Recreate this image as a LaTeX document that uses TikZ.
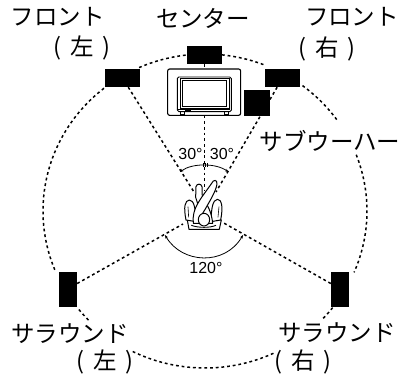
\documentclass[tikz,border=0pt]{standalone}
\usepackage{fontspec}
\setmainfont{Liberation Sans}
\newfontfamily\jpf{Noto Sans CJK JP}
\usetikzlibrary{arrows.meta}
\newcommand{\parpair}[1]{(\hspace{8.5pt}#1\hspace{8.5pt})}
\tikzset{
 lab/.style={font=\jpf\fontsize{23.5}{25}\selectfont,inner sep=0pt,text=black},
 deg/.style={font=\fontsize{16}{18}\selectfont,inner sep=0pt,text=black},
 spk/.style={fill=black,draw=none,inner sep=0pt,minimum width=#1},
 dsh/.style={line width=1.5pt,dash pattern=on 2.8pt off 2.9pt},
 ang/.style={line width=.8pt,{Stealth[length=3.5pt,width=2.8pt]}-{Stealth[length=3.5pt,width=2.8pt]}},
 lst/.style={line width=1pt,fill=white,line join=round},
}
\begin{document}
\begin{tikzpicture}[x=1pt,y=1pt,yscale=-1]
\useasboundingbox (0,0) rectangle (400,375);
\coordinate (c) at (205,211);
\coordinate (la) at (194,192);
\coordinate (lb) at (204.5,190);
\coordinate (lc) at (216,192);
\coordinate (ld) at (183,224);
\coordinate (le) at (222,222);
% speakers
\path (122.5,78) node[spk=35pt,minimum height=18pt] (FL) {};
\path (204.5,55) node[spk=35pt,minimum height=18pt] (FC) {};
\path (282.5,78) node[spk=35pt,minimum height=18pt] (FR) {};
\path (68,289.5) node[spk=18pt,minimum height=35pt] (SL) {};
\path (340,289.5) node[spk=18pt,minimum height=35pt] (SR) {};
% listening lines
\draw[dsh] (FL) -- (la);
\draw[dsh] (FC) -- (lb);
\draw[dsh] (FR) -- (lc);
\draw[dsh] ([yshift=-6pt]SL.east) -- (ld);
\draw[dsh] ([yshift=-6pt]SR.west) -- (le);
% big circle
\draw[dsh] (c) ++(246:162 and 157) arc[start angle=246,end angle=264,x radius=162,y radius=157];
\draw[dsh] (c) ++(276:162 and 157) arc[start angle=276,end angle=292,x radius=162,y radius=157];
\draw[dsh] (c) ++(-53:162 and 157) arc[start angle=-53,end angle=-35,x radius=162,y radius=157];
\draw[dsh] (c) ++(-21:162 and 157) arc[start angle=-21,end angle=23,x radius=162,y radius=157];
\draw[dsh] (c) ++(38:162 and 157) arc[start angle=38,end angle=44,x radius=162,y radius=157];
\draw[dsh] (c) ++(65:162 and 157) arc[start angle=65,end angle=117,x radius=162,y radius=157];
\draw[dsh] (c) ++(136:162 and 157) arc[start angle=136,end angle=142,x radius=162,y radius=157];
\draw[dsh] (c) ++(158:162 and 157) arc[start angle=158,end angle=232,x radius=162,y radius=157];
% TV
\begin{scope}[shift={(90,30)},x=.3333pt,y=.3333pt]
\draw[line width=1.1pt,fill=white,rounded corners=2pt] (233,117) rectangle (452,256);
\draw[line width=.9pt,rounded corners=1.5pt] (262,141) -- (424,141) -- (424,245) -- (262,245) -- cycle;
\draw[line width=.7pt] (277,151) rectangle (410,228);
\draw[line width=.5pt] (270,146) -- (417,146) -- (417,236) -- (270,236) -- cycle;
\draw[line width=.6pt] (265,238) -- (421,238);
\draw[line width=.6pt] (270,245) -- (270,254) -- (284,254) -- (284,245);
\draw[line width=.6pt] (402,245) -- (402,254) -- (416,254) -- (416,245);
\fill (285,239) rectangle (303,244);
\end{scope}
\path (257,103) node[spk=26pt,minimum height=26pt] (SW) {};
% angle arcs
\draw[ang] (180,172) .. controls (192,163) and (216,163) .. (228.5,172);
\draw[line width=.5pt] (203,163) -- (203,167) (205,163) -- (205,167) (207,163) -- (207,167);
\draw[ang] (165,235) .. controls (182,264) and (225,266) .. (243,235);
% listener
\begin{scope}[shift={(130,140)},x=.3333pt,y=.3333pt]
\draw[lst] (172,240) -- (177,268) -- (268,268) -- (274,240) -- cycle;
\draw[lst] (168,240) .. controls (160,200) and (165,182) .. (178,180) .. controls (192,182) and (196,200) .. (198,245) -- cycle;
\draw[lst] (272,240) .. controls (280,200) and (275,178) .. (262,178) .. controls (248,180) and (244,205) .. (243,245) -- cycle;
\draw[line width=.6pt] (176,232) -- (174,200) (264,232) -- (267,200);
\draw[lst] (248,250) .. controls (245,215) and (230,190) .. (217,172) -- (216,140) .. controls (214,130) and (200,130) .. (198,140) -- (197,172) .. controls (205,195) and (212,225) .. (225,250) -- cycle;
\draw[lst] (190,250) .. controls (185,205) and (210,180) .. (245,130) .. controls (250,118) and (262,118) .. (261,132) .. controls (258,155) and (235,190) .. (226,207) .. controls (215,222) and (212,235) .. (212,250) -- cycle;
\draw[lst] (222,239) circle[x radius=17,y radius=19];
\draw[line width=.9pt] (184,256) .. controls (205,264) and (240,264) .. (258,256);
\end{scope}
% labels
\node[lab] (t1) at (58,17) {フロント};
\node[lab] (t2) at (82,48) {\parpair{左}};
\node[lab] (t3) at (203,18) {センター};
\node[lab] (t4) at (352,17) {フロント};
\node[lab] (t5) at (327,49) {\parpair{右}};
\node[lab] (t6) at (330,141) {サブウーハー};
\node[lab] (t7) at (70,334) {サラウンド};
\node[lab] (t8) at (105,362) {\parpair{左}};
\node[lab] (t9) at (337,333) {サラウンド};
\node[lab] (t10) at (303,362) {\parpair{右}};
\node[deg] (d1) at (190.5,154) {30°};
\node[deg] (d2) at (222,154) {30°};
\node[deg] (d3) at (206,268) {120°};
\end{tikzpicture}
\end{document}
